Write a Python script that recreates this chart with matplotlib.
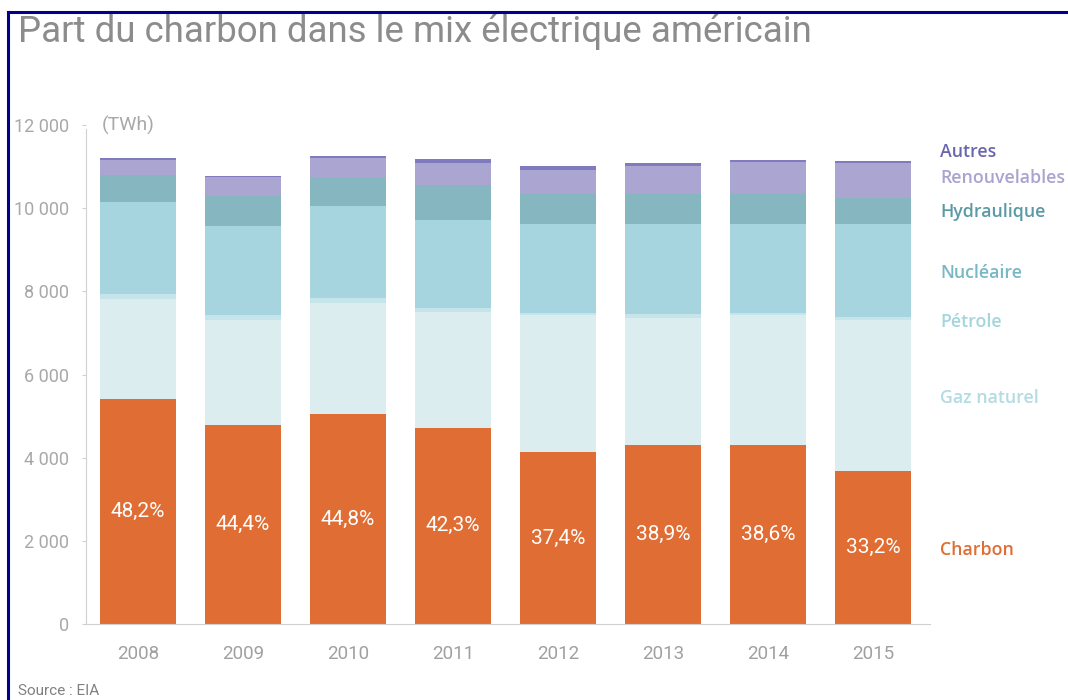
import matplotlib.pyplot as plt
from matplotlib.lines import Line2D
from matplotlib.ticker import FuncFormatter
import numpy as np

years = ['2008', '2009', '2010', '2011', '2012', '2013', '2014', '2015']
charbon = [5400, 4780, 5040, 4720, 4130, 4310, 4300, 3680]
gaz = [2420, 2540, 2690, 2790, 3310, 3060, 3120, 3640]
petrole = [120, 100, 120, 100, 50, 90, 70, 70]
nucleaire = [2210, 2160, 2200, 2110, 2130, 2160, 2130, 2230]
hydraulique = [650, 720, 670, 840, 720, 720, 720, 630]
renouvelables = [370, 440, 480, 530, 580, 680, 770, 840]
autres = [40, 40, 50, 90, 100, 70, 50, 50]
part_charbon = ['48,2%', '44,4%', '44,8%', '42,3%', '37,4%', '38,9%', '38,6%', '33,2%']

series = [
    ('Charbon', charbon, '#e06d33', '#e06d33', 550),
    ('Gaz naturel', gaz, '#dcedf0', '#b3dbe3', 398),
    ('Pétrole', petrole, '#c6e5eb', '#a3d5de', 322),
    ('Nucléaire', nucleaire, '#a6d5df', '#78b7c4', 273),
    ('Hydraulique', hydraulique, '#86b7c1', '#5b9aa5', 212),
    ('Renouvelables', renouvelables, '#aaa5d1', '#a9a3d0', 178),
    ('Autres', autres, '#7f7bbd', '#6a66ae', 152),
]

fig = plt.figure(figsize=(10.68, 7.0), dpi=100)
ax = fig.add_axes([86 / 1068, 1 - 624 / 700, (930 - 86) / 1068, (624 - 125) / 700])

x = np.arange(len(years))
bottom = np.zeros(len(years))
for name, vals, col, lcol, ypix in series:
    ax.bar(x, vals, width=0.724, bottom=bottom, color=col, edgecolor='none')
    bottom += np.array(vals)
    fig.text(940 / 1068, 1 - ypix / 700, name, color=lcol, fontsize=12.8,
             family='Open Sans', fontweight='semibold', va='center', ha='left')

# part du charbon, au milieu de la barre orange
for i, lab in enumerate(part_charbon):
    ax.text(x[i], charbon[i] / 2, lab, color='white', fontsize=15,
            family='Roboto', ha='center', va='center')

ax.set_xlim(-0.495, 7.543)
ax.set_ylim(0, 12000)
ax.set_xticks(x)
ax.set_xticklabels(years)
ax.set_yticks(range(0, 12001, 2000))
ax.yaxis.set_major_formatter(FuncFormatter(lambda v, p: f'{int(v):,}'.replace(',', ' ')))

for s in ['top', 'right']:
    ax.spines[s].set_visible(False)
ax.spines['left'].set_color('#d0d0d0')
ax.spines['bottom'].set_color('#d0d0d0')
ax.spines['left'].set_bounds(0, 11900)
ax.tick_params(axis='y', colors='#d0d0d0', labelcolor='#a8a8a8', labelsize=13,
               length=3, pad=9)
ax.tick_params(axis='x', length=0, labelcolor='#a0a0a0', labelsize=13.5, pad=15)
for t in ax.get_xticklabels() + ax.get_yticklabels():
    t.set_family('Roboto')

fig.text(102 / 1068, 1 - 125 / 700, '(TWh)', color='#a8a8a8', fontsize=14,
         family='Roboto', va='center')

fig.text(18 / 1068, 1 - 32 / 700, 'Part du charbon dans le mix électrique américain',
         color='#8c8c8c', fontsize=26.4, family='Roboto', va='center')
fig.text(18 / 1068, 1 - 691 / 700, 'Source : EIA', color='#808080',
         fontsize=11, family='Roboto', va='center')

# cadre bleu
fig.add_artist(Line2D([8 / 1068, 1], [1 - 12 / 700, 1 - 12 / 700],
                      transform=fig.transFigure, color='#00008b', lw=2.2))
fig.add_artist(Line2D([8 / 1068, 8 / 1068], [0, 1 - 12 / 700],
                      transform=fig.transFigure, color='#00008b', lw=2.2))

fig.savefig('out.png', dpi=100)
